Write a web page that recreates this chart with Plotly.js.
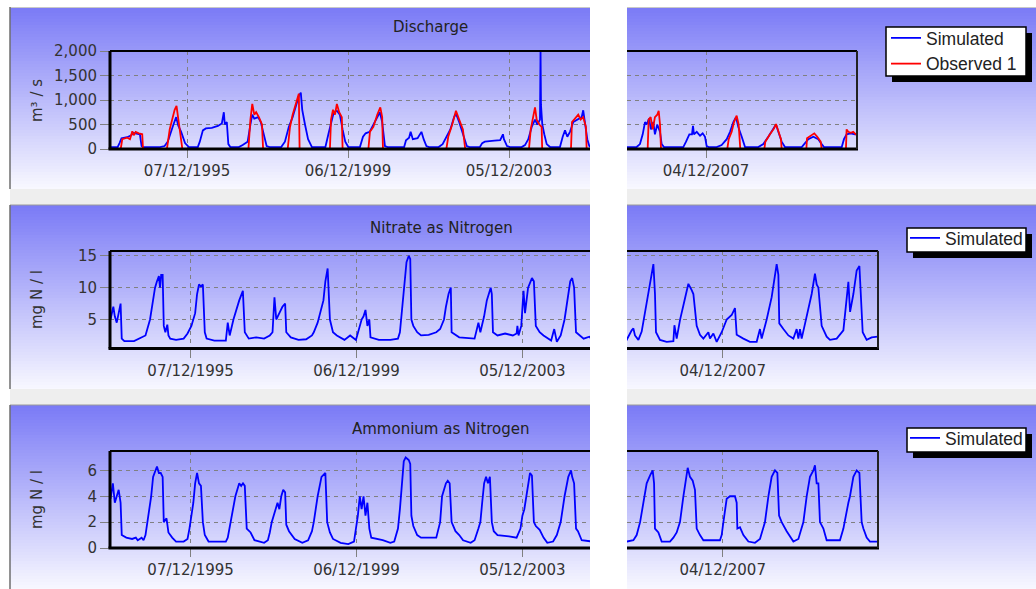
<!DOCTYPE html>
<html>
<head>
<meta charset="utf-8">
<script src="https://cdn.plot.ly/plotly-3.0.1.min.js"></script>
<style>html,body{margin:0;padding:0;background:#fff;}#chart{width:1036px;height:589px;}</style>
</head>
<body>
<div id="chart"></div>
<script>
// ---------------- DATA ----------------
const tickDates = ['1995-12-07', '1999-12-06', '2003-12-05', '2007-12-04'];
const dischargeTicks = [0, 500, 1000, 1500, 2000];
const nitrateTicks = [5, 10, 15];
const ammoniumTicks = [0, 2, 4, 6];

const panelTitles = ['Discharge', 'Nitrate as Nitrogen', 'Ammonium as Nitrogen'];
const unitLabels = ['m³ / s', 'mg N / l', 'mg N / l'];
const seriesNames = ['Simulated', 'Observed 1'];

// Discharge, simulated (m3/s)
const dqSimDates = ['1994-01-01','1994-03-18','1994-04-04','1994-04-22','1994-06-13','1994-07-19','1994-08-05','1994-09-08','1994-10-06','1994-10-21','1994-11-03',
'1995-04-07','1995-05-18','1995-06-16','1995-07-13','1995-08-06','1995-08-31','1995-09-18','1995-10-15','1995-11-19','1995-12-24',
'1996-03-14','1996-04-01','1996-04-29','1996-05-26','1996-07-19','1996-09-12','1996-10-18','1996-11-05','1996-11-14','1996-12-02','1996-12-16','1997-01-03',
'1997-03-21','1997-04-25','1997-06-09','1997-07-04','1997-07-21','1997-08-08','1997-09-12','1997-10-06','1997-11-03','1997-11-28','1997-12-25',
'1998-04-09','1998-05-13','1998-06-17','1998-07-22','1998-08-26','1998-09-19','1998-10-04','1998-10-17','1998-11-11','1998-12-09','1999-01-13',
'1999-05-15','1999-06-11','1999-07-05','1999-07-30','1999-08-27','1999-09-23','1999-10-18','1999-11-11','1999-12-09',
'2000-03-23','2000-04-20','2000-05-14','2000-06-19','2000-07-23','2000-08-27','2000-09-20','2000-10-11','2000-11-05','2000-11-29',
'2001-04-28','2001-05-15','2001-06-12','2001-06-26','2001-07-16','2001-08-28','2001-10-02','2001-10-22','2001-11-16','2001-12-10',
'2002-03-07','2002-04-12','2002-05-16','2002-06-21','2002-07-25','2002-08-11','2002-09-09','2002-10-13','2002-11-17','2002-12-12',
'2003-03-16','2003-04-06','2003-04-30','2003-07-26','2003-09-16','2003-10-11','2003-10-20','2003-11-17','2003-12-14',
'2004-03-29','2004-04-28','2004-05-28','2004-06-28','2004-07-28','2004-08-18','2004-09-11','2004-09-16','2004-09-20','2004-10-02','2004-10-20','2004-11-11','2004-12-11',
'2005-03-11','2005-04-05','2005-04-26','2005-05-17','2005-06-10','2005-07-10','2005-08-24','2005-09-24','2005-10-08','2005-10-24','2005-11-14','2005-12-02','2005-12-15',
'2006-03-15','2006-04-14','2006-05-09','2006-05-30','2006-06-14','2006-07-05','2006-07-23','2006-08-13','2006-08-28','2006-09-18','2006-10-13','2006-10-28','2006-11-18',
'2007-05-12','2007-06-06','2007-07-06','2007-07-30','2007-08-08','2007-08-17','2007-09-11','2007-10-11','2007-11-04','2007-11-25','2007-12-10','2007-12-28',
'2008-03-10','2008-04-24','2008-06-09','2008-07-09','2008-08-08','2008-09-01','2008-09-22','2008-10-23','2008-11-22',
'2009-03-22','2009-05-07','2009-06-21','2009-07-31','2009-08-30','2009-09-20','2009-10-20','2009-11-19',
'2010-04-20','2010-05-20','2010-06-19','2010-08-03','2010-09-17','2010-10-18','2010-11-08',
'2011-04-18','2011-05-08','2011-06-01','2011-07-08','2011-08-16','2011-09-03'];
const dqSimValues = [40,40,120,220,240,280,330,320,300,60,40,
40,60,150,350,500,650,480,350,120,40,
40,150,380,420,430,470,520,750,500,550,100,40,
40,80,150,500,700,620,650,550,300,60,40,
40,150,450,650,900,1100,1150,800,500,200,40,
40,300,550,750,780,700,400,150,40,
40,250,320,350,500,650,750,550,60,40,
40,180,230,350,200,220,350,200,60,40,
40,100,250,400,650,720,550,300,60,40,
40,120,150,170,180,300,200,60,40,
40,80,200,450,600,500,600,2000,900,500,300,100,40,
40,250,380,250,350,550,600,650,790,500,200,60,40,
40,100,300,550,500,620,400,550,300,500,350,100,40,
40,150,300,300,470,300,350,270,320,250,60,40,
40,80,200,350,550,650,450,250,40,
40,100,250,400,500,350,150,40,
40,120,200,250,200,100,40,
40,200,300,320,300,300];

// Discharge, observed (m3/s)
const dqObsDates = ['1994-01-01','1994-04-15','1994-04-29','1994-06-13','1994-07-08','1994-07-29','1994-08-11','1994-08-29','1994-09-26','1994-10-27','1994-11-03',
'1995-06-08','1995-07-03','1995-07-27','1995-08-17','1995-09-03','1995-09-21','1995-10-09','1995-10-26',
'1997-06-16','1997-07-04','1997-07-21','1997-08-08','1997-08-25','1997-09-19','1997-10-17','1997-10-27',
'1998-06-07','1998-06-28','1998-07-22','1998-08-16','1998-09-06','1998-09-16','1998-09-23',
'1999-06-25','1999-07-05','1999-07-23','1999-08-10','1999-08-27','1999-09-17','1999-10-11','1999-10-18',
'2000-06-08','2000-06-22','2000-07-23','2000-08-27','2000-09-24','2000-10-11','2000-10-18',
'2002-05-16','2002-06-02','2002-07-08','2002-08-11','2002-09-09','2002-10-13','2002-11-03',
'2004-06-03','2004-06-19','2004-07-12','2004-07-28','2004-08-12','2004-09-05','2004-09-26','2004-10-01',
'2005-06-19','2005-06-28','2005-07-25','2005-08-24','2005-09-15','2005-10-08','2005-11-02','2005-11-08',
'2006-06-23','2006-07-02','2006-07-20','2006-08-08','2006-08-28','2006-09-18','2006-10-01','2006-10-13','2006-10-22',
'2008-06-14','2008-06-27','2008-07-24','2008-08-14','2008-09-07','2008-09-25','2008-10-10',
'2009-05-16','2009-05-25','2009-07-06','2009-08-12','2009-08-30','2009-09-23','2009-10-14','2009-10-20',
'2010-06-01','2010-06-07','2010-07-20','2010-08-12','2010-09-08','2010-10-09','2010-10-18',
'2011-05-26','2011-06-01','2011-06-16','2011-07-10','2011-07-31','2011-08-24','2011-09-03'];
const dqObsValues = [0,0,200,230,200,360,280,350,320,300,0,
0,400,650,800,880,600,350,0,
0,600,920,700,750,650,500,0,
0,450,700,900,1050,1130,0,
0,600,800,700,920,750,650,0,
0,350,450,700,850,650,0,
0,250,500,780,600,400,0,
0,400,700,850,600,500,450,0,
0,550,620,700,600,650,450,0,
0,600,650,400,650,700,780,500,0,
0,200,350,550,680,500,0,
0,150,300,420,510,350,200,0,
0,220,280,320,250,150,0,
0,400,350,330,350,300,300];

// Nitrate as nitrogen, simulated (mg N/l)
const no3Dates = ['1994-01-01','1994-01-26','1994-02-08','1994-02-25','1994-03-14','1994-03-31','1994-04-10','1994-05-03','1994-07-27','1994-10-02','1994-11-05','1994-12-15',
'1995-01-11','1995-01-28','1995-02-14','1995-03-03','1995-03-13','1995-03-23','1995-04-05','1995-04-15','1995-04-29','1995-05-16','1995-05-26','1995-06-11','1995-08-01','1995-10-07','1995-11-10','1995-12-14',
'1996-01-16','1996-02-02','1996-02-19','1996-03-07','1996-03-24','1996-04-10','1996-04-26','1996-07-03','1996-10-12','1996-10-29','1996-11-15','1996-12-18',
'1997-02-07','1997-03-11','1997-03-28','1997-05-02','1997-07-08','1997-09-14','1997-11-03','1997-11-27','1997-12-14','1997-12-30',
'1998-01-26','1998-02-22','1998-03-18','1998-03-28','1998-05-07','1998-07-14','1998-09-19','1998-11-09','1998-11-25','1998-12-29',
'1999-02-18','1999-03-07','1999-03-27','1999-04-16','1999-05-13','1999-06-16','1999-08-22','1999-10-11','1999-12-01',
'2000-01-20','2000-02-06','2000-02-23','2000-03-11','2000-03-28','2000-04-07','2000-06-20','2000-09-29','2000-12-05','2000-12-22',
'2001-01-08','2001-01-25','2001-02-18','2001-03-10','2001-03-23','2001-04-02','2001-04-19','2001-05-23','2001-06-26','2001-09-01','2001-11-07','2001-12-11',
'2002-01-14','2002-01-31','2002-02-23','2002-03-15','2002-03-22','2002-05-28','2002-10-10','2002-11-13','2002-11-30',
'2003-01-02','2003-01-26','2003-03-01','2003-03-11','2003-03-21','2003-04-30','2003-07-06','2003-09-12','2003-10-15','2003-10-22','2003-11-01','2003-11-25','2003-12-15','2003-12-28',
'2004-01-24','2004-02-27','2004-03-15','2004-04-01','2004-05-05','2004-06-08','2004-08-14','2004-09-10','2004-10-03','2004-11-06','2004-12-10',
'2005-01-02','2005-01-29','2005-02-15','2005-03-04','2005-03-21','2005-04-24','2005-05-27','2005-07-16',
'2005-08-11','2005-09-24','2005-10-09','2005-10-23','2005-11-22','2005-12-21',
'2006-01-19','2006-02-18','2006-03-19','2006-04-03','2006-04-17','2006-04-26','2006-05-31','2006-07-29','2006-09-26','2006-10-05','2006-10-25','2006-11-23',
'2007-01-06','2007-02-05','2007-03-06','2007-03-21','2007-04-19','2007-05-18','2007-06-17','2007-07-31','2007-08-14','2007-09-13','2007-10-12','2007-11-25',
'2008-01-08','2008-02-21','2008-03-21','2008-04-05','2008-06-03','2008-07-31','2008-09-28','2008-10-27','2008-11-11','2008-12-25',
'2009-02-07','2009-03-23','2009-04-07','2009-04-15','2009-05-21','2009-07-04','2009-08-17','2009-09-15','2009-09-30','2009-10-14','2009-10-29','2009-12-12',
'2010-01-25','2010-02-23','2010-03-10','2010-03-25','2010-04-23','2010-06-06','2010-07-05','2010-09-02','2010-10-31','2010-12-14','2010-12-29',
'2011-01-27','2011-02-25','2011-03-21','2011-04-01','2011-04-19','2011-05-24','2011-07-07','2011-08-29'];
const no3Values = [5.0,7.0,5.5,4.5,6.0,7.5,2.0,1.6,1.6,2.2,2.5,5.0,
8.0,10.0,11.0,11.8,10.0,12.0,12.0,4.0,3.0,4.2,2.5,2.0,1.8,2.0,2.8,4.0,
6.0,9.0,10.5,10.2,10.5,3.0,2.0,1.7,1.7,4.5,2.5,5.0,
8.0,9.5,3.0,2.0,2.2,2.0,2.5,3.0,8.5,5.0,
6.0,7.0,7.5,3.0,2.2,1.8,1.9,2.5,3.0,4.5,
8.0,11.0,13.0,5.0,3.0,2.5,1.8,2.5,1.8,
5.0,5.5,6.5,4.0,5.0,2.2,1.8,1.8,2.0,3.0,
6.0,10.0,14.0,15.0,14.5,5.0,4.0,3.0,2.5,2.6,3.0,3.5,
5.0,7.0,9.0,10.0,3.0,2.2,2.0,4.5,3.0,
5.5,8.0,10.0,9.0,3.0,2.5,2.8,2.5,2.8,4.0,2.5,4.0,9.5,6.0,
10.0,11.5,11.0,4.0,3.0,2.5,1.7,3.5,1.5,2.5,5.0,
8.0,11.0,11.5,10.0,3.0,2.5,2.0,2.3,
1.8,3.3,3.6,2.5,1.8,3.1,
6.2,9.6,12.2,13.7,9.0,3.0,1.8,1.5,1.6,4.1,2.0,4.9,
8.3,10.6,9.6,9.0,4.0,2.6,2.0,3.0,2.0,2.8,1.5,3.0,
5.0,5.7,6.8,2.6,2.0,1.5,1.5,3.5,2.0,5.0,
8.5,13.7,12.0,4.4,3.5,2.5,2.0,3.5,2.0,3.5,2.0,5.4,
9.0,12.2,10.5,10.0,4.0,2.3,1.8,2.0,3.3,10.9,6.2,
9.0,12.7,13.4,9.6,3.0,1.8,2.2,2.3];

// Ammonium as nitrogen, simulated (mg N/l)
const nh4Dates = ['1994-01-01','1994-01-22','1994-02-08','1994-02-25','1994-03-14','1994-03-31','1994-04-10','1994-05-20','1994-07-10','1994-08-12','1994-08-29','1994-10-02','1994-10-19','1994-11-05','1994-12-08','1994-12-25',
'1995-01-11','1995-01-28','1995-02-14','1995-03-03','1995-03-19','1995-04-05','1995-04-15','1995-05-09','1995-05-26','1995-06-28','1995-08-01','1995-10-07','1995-11-10','1995-11-27','1995-12-14','1995-12-31',
'1996-01-16','1996-02-02','1996-02-19','1996-03-07','1996-03-24','1996-04-10','1996-05-13','1996-10-12','1996-10-29','1996-12-01',
'1997-01-04','1997-01-21','1997-02-07','1997-02-24','1997-03-12','1997-03-28','1997-04-14','1997-05-18','1997-06-21','1997-09-14','1997-10-17','1997-11-03','1997-11-20','1997-12-24',
'1998-01-10','1998-01-26','1998-02-12','1998-03-01','1998-03-18','1998-03-28','1998-04-21','1998-06-10','1998-08-16','1998-10-06','1998-11-09','1998-11-25','1998-12-29',
'1999-02-01','1999-03-07','1999-03-23','1999-04-16','1999-05-13','1999-07-19','1999-09-25','1999-11-14','1999-12-18',
'2000-01-04','2000-01-20','2000-02-06','2000-02-23','2000-03-11','2000-03-28','2000-04-14','2000-07-24','2000-09-29','2000-11-02','2000-12-05','2000-12-22',
'2001-01-08','2001-01-25','2001-02-11','2001-03-10','2001-03-23','2001-04-02','2001-04-19','2001-05-23','2001-06-26','2001-11-07','2001-12-11','2001-12-28',
'2002-01-14','2002-01-31','2002-02-16','2002-03-05','2002-03-22','2002-04-25','2002-05-28','2002-07-01','2002-09-06','2002-10-10','2002-11-13','2002-11-30','2002-12-16',
'2003-01-02','2003-01-19','2003-02-05','2003-02-22','2003-03-11','2003-03-28','2003-04-30','2003-08-09','2003-10-15','2003-11-18','2003-12-05','2003-12-22',
'2004-01-24','2004-02-10','2004-02-27','2004-03-15','2004-04-01','2004-05-05','2004-06-08','2004-07-11','2004-08-31','2004-10-03','2004-11-06','2004-12-10',
'2005-01-12','2005-02-05','2005-02-15','2005-03-04','2005-03-21','2005-04-07','2005-05-10','2005-07-16',
'2005-08-11','2005-10-09','2005-11-07','2005-12-07',
'2006-01-05','2006-02-03','2006-03-04','2006-03-28','2006-04-09','2006-04-17','2006-05-17','2006-06-15','2006-08-27','2006-09-26','2006-10-25','2006-11-23','2006-12-23',
'2007-01-15','2007-01-30','2007-02-19','2007-03-15','2007-04-04','2007-04-19','2007-05-18','2007-06-17','2007-11-10','2007-11-25','2007-12-10',
'2008-01-08','2008-02-06','2008-03-21','2008-04-05','2008-04-11','2008-05-04','2008-06-03','2008-07-17','2008-09-13','2008-10-27','2008-12-10',
'2009-01-09','2009-02-07','2009-03-08','2009-03-29','2009-04-13','2009-05-06','2009-06-19','2009-08-17','2009-09-30','2009-11-13','2009-12-12',
'2010-01-10','2010-02-09','2010-02-23','2010-03-10','2010-03-25','2010-04-08','2010-05-08','2010-06-06','2010-10-01','2010-10-31','2010-11-29','2010-12-14','2010-12-28',
'2011-01-27','2011-02-25','2011-03-21','2011-04-10','2011-04-25','2011-05-24','2011-06-22','2011-08-29'];
const nh4Values = [3.8,5.0,3.5,4.0,4.5,3.5,1.0,0.8,0.7,0.8,0.6,0.8,0.6,1.0,2.9,4.0,
5.5,6.0,6.3,5.8,5.8,5.5,2.0,2.3,1.2,0.8,0.5,0.5,0.7,1.5,2.5,3.5,
5.0,5.8,5.0,4.8,2.0,1.0,0.5,0.5,0.8,2.5,
4.0,4.5,5.0,4.8,5.0,4.8,1.5,1.2,0.6,0.4,0.6,1.2,2.0,3.0,
3.5,3.0,4.0,4.5,4.3,1.8,1.3,0.7,0.4,0.6,1.3,2.0,4.0,
5.5,5.8,2.0,1.2,0.7,0.4,0.3,0.5,2.5,
4.0,3.0,4.0,2.5,3.5,1.5,0.8,0.6,0.4,0.5,1.5,3.0,
5.0,6.7,7.0,6.8,6.5,2.5,1.7,1.0,0.8,0.8,2.0,4.0,
4.5,5.0,5.2,5.0,2.0,1.3,1.0,0.6,0.4,0.6,1.5,2.0,3.5,
5.0,5.5,5.0,5.5,2.0,1.3,1.0,0.9,0.8,1.5,2.5,3.0,
5.0,5.8,5.6,2.0,1.7,1.4,0.8,0.4,0.5,1.0,2.0,4.0,
5.5,6.0,5.5,5.0,1.5,1.3,0.6,0.5,
0.5,0.6,1.0,2.0,
3.5,5.0,5.6,6.0,5.0,1.5,1.2,0.5,0.5,0.8,1.2,2.0,4.0,
5.5,6.2,5.5,5.2,4.5,1.5,1.0,0.6,0.6,1.0,2.0,
3.8,4.0,4.0,3.5,1.5,1.6,1.0,0.5,0.4,0.7,2.0,
4.0,5.5,6.0,5.8,2.5,2.0,1.3,0.5,0.7,2.0,4.0,
5.5,6.0,6.4,5.0,5.0,2.0,1.5,0.6,0.6,1.5,3.0,3.5,4.0,
5.5,6.0,5.8,2.0,1.5,0.8,0.5,0.5];

// ---------------- LAYOUT GEOMETRY (pixels of the 1036x589 page) ----------------
const W = 1036, H = 589;
const fx = p => p / W;
const fy = p => 1 - p / H;
function dateAt(p, anchorPx, anchorIso, pxPerDay) {
  const a = Date.UTC(+anchorIso.slice(0, 4), +anchorIso.slice(5, 7) - 1, +anchorIso.slice(8, 10));
  const d = new Date(a + (p - anchorPx) / pxPerDay * 864e5);
  return d.toISOString().replace('T', ' ').slice(0, 19);
}

const panels = [
  {top: 51, bottom: 149, right: 857, ppd: 0.110274, leftAnchor: 187, rightAnchor: 706, yr: [0, 2000], yt: dischargeTicks, yfmt: ',', bg: [7, 189],
   legend: {x: 886, top: 20, box: [886, 1026, 27, 76]}},
  {top: 251, bottom: 348.5, right: 878, ppd: 0.11363, leftAnchor: 190.6, rightAnchor: 722.7, yr: [0.45, 15.75], yt: nitrateTicks, yfmt: '', bg: [205, 389],
   legend: {x: 905, top: 220, box: [907, 1026, 228, 252]}},
  {top: 451, bottom: 548, right: 878, ppd: 0.11363, leftAnchor: 190.6, rightAnchor: 722.7, yr: [0, 7.5], yt: ammoniumTicks, yfmt: '', bg: [405, 589],
   legend: {x: 905, top: 420, box: [907, 1026, 428, 452]}}
];
const PL = 110, CUT_L = 590, CUT_R = 627;

const tickFont = {family: 'DejaVu Sans, sans-serif', size: 15, color: '#333333'};
const gridStyle = {showgrid: true, gridcolor: '#808080', griddash: '4px,4px', gridwidth: 1, zeroline: false, showline: false, fixedrange: true};

const layout = {
  width: W, height: H, autosize: false,
  margin: {l: 0, r: 0, t: 0, b: 0, pad: 0},
  paper_bgcolor: '#ffffff', plot_bgcolor: 'rgba(0,0,0,0)',
  showlegend: true,
  font: {family: 'DejaVu Sans, sans-serif', color: '#333333'},
  annotations: [], shapes: []
};

const legendIds = ['legend', 'legend2', 'legend3'];
const legendFont = {family: 'Arial, "Liberation Sans", sans-serif', size: 17.5, color: '#222222'};

panels.forEach((p, i) => {
  const n = 2 * i + 1, m = 2 * i + 2;
  const xl = 'xaxis' + (n === 1 ? '' : n), xr = 'xaxis' + m;
  const yl = 'yaxis' + (n === 1 ? '' : n), yr = 'yaxis' + m;
  const ydom = [fy(p.bottom), fy(p.top)];
  layout[xl] = Object.assign({}, gridStyle, {
    type: 'date', anchor: 'y' + (n === 1 ? '' : n), domain: [fx(PL), fx(CUT_L)],
    range: [dateAt(PL, p.leftAnchor, tickDates[0], p.ppd), dateAt(CUT_L, p.leftAnchor, tickDates[0], p.ppd)],
    tickvals: tickDates, tickformat: '%d/%m/%Y', ticks: 'outside', ticklen: 8, tickwidth: 1, tickcolor: '#808080', tickfont: tickFont
  });
  layout[xr] = Object.assign({}, gridStyle, {
    type: 'date', anchor: 'y' + m, domain: [fx(CUT_R), fx(p.right)],
    range: [dateAt(CUT_R, p.rightAnchor, tickDates[3], p.ppd), dateAt(p.right, p.rightAnchor, tickDates[3], p.ppd)],
    tickvals: tickDates, tickformat: '%d/%m/%Y', ticks: 'outside', ticklen: 8, tickwidth: 1, tickcolor: '#808080', tickfont: tickFont
  });
  layout[yl] = Object.assign({}, gridStyle, {
    anchor: 'x' + (n === 1 ? '' : n), domain: ydom, range: p.yr, tickvals: p.yt, tickformat: p.yfmt,
    ticks: 'outside', ticklen: 9, tickwidth: 1, tickcolor: '#808080', tickfont: tickFont
  });
  layout[yr] = Object.assign({}, gridStyle, {
    anchor: 'x' + m, domain: ydom, range: p.yr, tickvals: p.yt, showticklabels: false, ticks: ''
  });
  layout[legendIds[i]] = {x: fx(p.legend.x), xanchor: 'left', y: fy(p.legend.top), yanchor: 'top', xref: 'paper', yref: 'paper',
    bgcolor: 'rgba(0,0,0,0)', borderwidth: 0, font: legendFont, itemwidth: 30, tracegroupgap: 0};
});

// titles and unit labels
const titlePos = [[430, 27], [441, 228], [441, 429]];
const unitPos = [[37, 101], [37, 300], [37, 500]];
panelTitles.forEach((t, i) => {
  layout.annotations.push({text: t, x: fx(titlePos[i][0]), y: fy(titlePos[i][1]), xref: 'paper', yref: 'paper',
    xanchor: 'center', yanchor: 'middle', showarrow: false, font: {family: 'DejaVu Sans, sans-serif', size: 15, color: '#222222'}});
  layout.annotations.push({text: unitLabels[i], x: fx(unitPos[i][0]), y: fy(unitPos[i][1]), xref: 'paper', yref: 'paper',
    xanchor: 'center', yanchor: 'middle', textangle: -90, showarrow: false, font: {family: 'DejaVu Sans, sans-serif', size: 15, color: '#333333'}});
});

// ---------------- background: vertical gradient panels ----------------
const shapes = [];
const cTop = [122, 122, 246], cBot = [249, 249, 255];
function rectPx(x0, x1, y0, y1, color, layer, lineColor, lineWidth) {
  return {type: 'rect', xref: 'paper', yref: 'paper', layer: layer || 'below', x0: fx(x0), x1: fx(x1), y0: fy(y0), y1: fy(y1),
    fillcolor: color, line: {width: lineWidth || 0, color: lineColor || color}};
}
function linePx(x0, y0, x1, y1, color, w, layer) {
  return {type: 'line', xref: 'paper', yref: 'paper', layer: layer || 'above', x0: fx(x0), x1: fx(x1), y0: fy(y0), y1: fy(y1),
    line: {color: color, width: w}};
}
panels.forEach(p => {
  const [a, b] = p.bg; const step = 3; const nb = Math.ceil((b - a) / step);
  for (let k = 0; k < nb; k++) {
    const t = (k + 0.5) / nb;
    const c = cTop.map((v, j) => Math.round(v + (cBot[j] - v) * t));
    shapes.push(rectPx(10, W, a + k * step, Math.min(b, a + (k + 1) * step + 0.7), 'rgb(' + c.join(',') + ')'));
  }
});
shapes.push(rectPx(10, W, 189, 205, '#eeeeee'));
shapes.push(rectPx(10, W, 389, 405, '#eeeeee'));
shapes.push(linePx(10, 7.5, W, 7.5, '#c8c8c8', 1, 'below'));
shapes.push(linePx(10, 205, W, 205, '#9a9a9a', 1.2, 'below'));
shapes.push(linePx(10, 405, W, 405, '#9a9a9a', 1.2, 'below'));
shapes.push(linePx(10, 7, 10, 189, '#6e6e6e', 1.5, 'below'));
shapes.push(linePx(10, 205, 10, 389, '#6e6e6e', 1.5, 'below'));
shapes.push(linePx(10, 405, 10, 589, '#6e6e6e', 1.5, 'below'));
shapes.push(rectPx(CUT_L, CUT_R, 0, H, '#ffffff'));

// plot frames
panels.forEach(p => {
  shapes.push(linePx(PL, p.top, PL, p.bottom, '#000000', 3));
  shapes.push(linePx(PL, p.top, CUT_L, p.top, '#000000', 2));
  shapes.push(linePx(CUT_R, p.top, p.right, p.top, '#000000', 2));
  shapes.push(linePx(PL - 1.5, p.bottom, CUT_L, p.bottom, '#000000', 3));
  shapes.push(linePx(CUT_R, p.bottom, p.right + 1, p.bottom, '#000000', 3));
  shapes.push(linePx(p.right, p.top, p.right, p.bottom, '#222222', 2));
});
// legend frames with drop shadow (legend entries themselves are Plotly legends)
panels.forEach(p => {
  const [x0, x1, y0, y1] = p.legend.box;
  shapes.push(rectPx(x0 + 6, x1 + 6, y0 + 6, y1 + 6, '#000000', 'above'));
  shapes.push(rectPx(x0, x1, y0, y1, '#ffffff', 'above', '#000000', 1.5));
});
layout.shapes = shapes;

// ---------------- traces ----------------
const blue = '#0000ff', red = '#ff0000';
function tr(x, y, xa, ya, name, color, legend, show) {
  return {type: 'scatter', mode: 'lines', x: x, y: y, xaxis: xa, yaxis: ya, name: name, legend: legend,
    showlegend: show, line: {color: color, width: 1.8}, hoverinfo: 'skip'};
}
const data = [
  tr(dqSimDates, dqSimValues, 'x', 'y', seriesNames[0], blue, 'legend', true),
  tr(dqObsDates, dqObsValues, 'x', 'y', seriesNames[1], red, 'legend', true),
  tr(dqSimDates, dqSimValues, 'x2', 'y2', seriesNames[0], blue, 'legend', false),
  tr(dqObsDates, dqObsValues, 'x2', 'y2', seriesNames[1], red, 'legend', false),
  tr(no3Dates, no3Values, 'x3', 'y3', seriesNames[0], blue, 'legend2', true),
  tr(no3Dates, no3Values, 'x4', 'y4', seriesNames[0], blue, 'legend2', false),
  tr(nh4Dates, nh4Values, 'x5', 'y5', seriesNames[0], blue, 'legend3', true),
  tr(nh4Dates, nh4Values, 'x6', 'y6', seriesNames[0], blue, 'legend3', false)
];

Plotly.newPlot(document.getElementById('chart'), data, layout, {staticPlot: true, displayModeBar: false});
</script>
</body>
</html>
